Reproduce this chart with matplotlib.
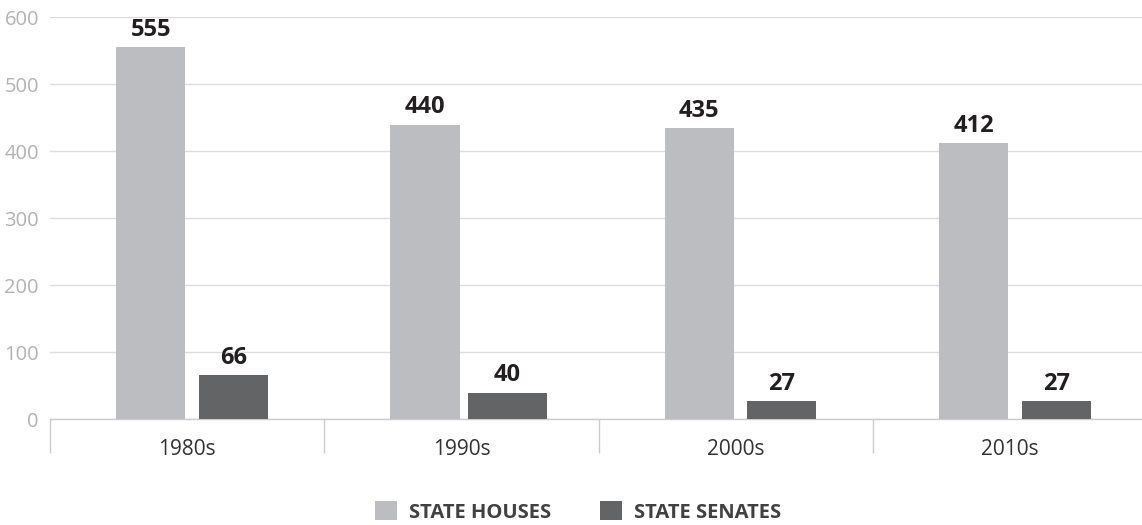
import numpy as np
import matplotlib
matplotlib.use("Agg")
import matplotlib.pyplot as plt
from matplotlib.patches import Patch

categories = ["1980s", "1990s", "2000s", "2010s"]
state_houses = [555, 440, 435, 412]
state_senates = [66, 40, 27, 27]
series_names = ["STATE HOUSES", "STATE SENATES"]
yticks = [0, 100, 200, 300, 400, 500, 600]

plt.rcParams['font.family'] = ['Open Sans', 'DejaVu Sans']

W, H = 1142, 525
fig = plt.figure(figsize=(W / 100, H / 100), dpi=100)
ax = fig.add_axes([50 / W, 105.7 / H, (1142 - 50) / W, (419.3 - 17.3) / H])

c_house = "#bcbdc0"
c_senate = "#636466"

x = np.arange(len(categories))
house_pos = x + 0.367
senate_pos = x + 0.668
bw = 0.252
senate_w = [bw, 0.29, bw, bw]

bh = ax.bar(house_pos, state_houses, width=bw, color=c_house, zorder=3)
bs = ax.bar(senate_pos, state_senates, width=senate_w, color=c_senate, zorder=3)

for bars, vals in ((bh, state_houses), (bs, state_senates)):
    for b, v in zip(bars, vals):
        ax.annotate(str(v), xy=(b.get_x() + b.get_width() / 2, v),
                    xytext=(0, 8), textcoords="offset points",
                    ha="center", va="baseline", fontsize=17, fontweight="bold",
                    color="#231f20")

ax.set_ylim(0, 600)
ax.set_xlim(0, (1142 - 50) / 274.3)
ax.set_yticks(yticks)
ax.set_yticklabels([str(t) for t in yticks])
ax.tick_params(axis="y", length=0, pad=8, labelsize=14.5, labelcolor="#b3b3b3")
ax.yaxis.grid(True, color="#dddddd", linewidth=1, zorder=0)
ax.set_axisbelow(True)

ax.set_xticks(x + 0.5)
ax.set_xticklabels([])
ax.tick_params(axis="x", which="major", length=0)
ax.set_xticks(x, minor=True)
ax.tick_params(axis="x", which="minor", length=24.5, width=1, color="#cccccc", direction="out")

for xi, lab in zip(x + 0.5, categories):
    ax.annotate(lab, xy=(xi, 0), xycoords=("data", "axes fraction"),
                xytext=(0, -25.7), textcoords="offset points",
                ha="center", va="baseline", fontsize=15, color="#333333")

for s in ("top", "right", "left"):
    ax.spines[s].set_visible(False)
ax.spines["bottom"].set_color("#cccccc")
ax.spines["bottom"].set_linewidth(1)

handles = [Patch(facecolor=c_house, edgecolor="none"), Patch(facecolor=c_senate, edgecolor="none")]
leg = fig.legend(handles, series_names, loc="center", bbox_to_anchor=(578 / W, 13 / H),
                 ncol=2, frameon=False, fontsize=14.5, handlelength=1.09, handleheight=1.09,
                 handletextpad=0.6, columnspacing=2.4, borderpad=0, borderaxespad=0)
for t in leg.get_texts():
    t.set_color("#414042")
    t.set_fontweight("bold")

fig.savefig("out.png", dpi=100)
